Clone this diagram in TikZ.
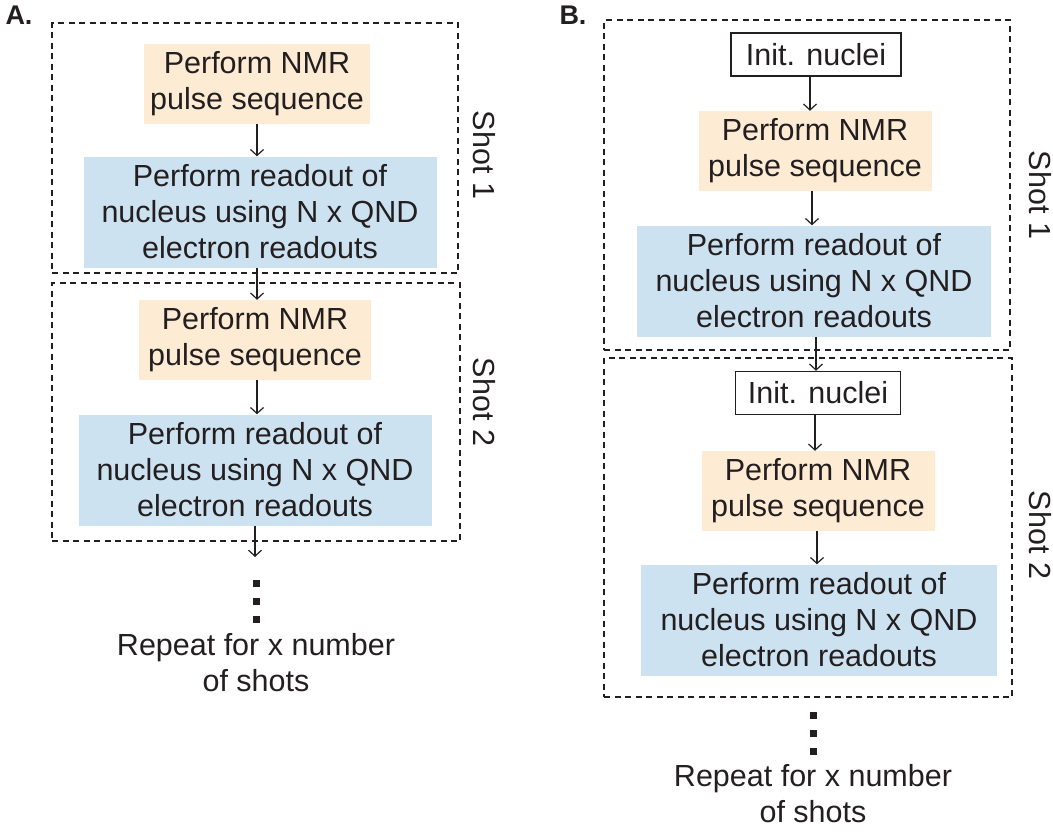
\documentclass[tikz,border=0pt]{standalone}
\usepackage{fontspec}
\setmainfont{Liberation Sans}
\usetikzlibrary{arrows.meta}
\definecolor{inkgray}{RGB}{35,31,32}
\definecolor{pulsefill}{RGB}{253,235,212}
\definecolor{readfill}{RGB}{205,226,240}
\tikzset{
  txt/.style={font=\fontsize{30.5}{36}\selectfont, text=inkgray, align=center, inner sep=0pt},
  pulsebox/.style={txt, fill=pulsefill, minimum width=#1, minimum height=80pt},
  readbox/.style={txt, fill=readfill, minimum width=#1, minimum height=111pt},
  initbox/.style={txt, draw=inkgray, line width=1.4pt, minimum width=#1, minimum height=43pt},
  shotframe/.style={draw=inkgray, line width=1.5pt, dash pattern=on 6pt off 4.5pt, inner sep=0pt},
  flow/.style={draw=inkgray, line width=1.2pt, -{Straight Barb[length=6pt,width=13pt,line width=1.2pt]}},
  dotsq/.style={fill=inkgray, minimum size=7pt, inner sep=0pt},
  shotlabel/.style={txt, rotate=-90},
  panellabel/.style={font=\bfseries\fontsize{27}{30}\selectfont, text=inkgray, inner sep=0pt}
}
\begin{document}
\begin{tikzpicture}[x=1pt, y=-1pt]
\useasboundingbox (0,0) rectangle (1053,831);

% ---------- Panel A ----------
\node[panellabel] (labA) at (19,15) {A.};
\node[shotframe, minimum width=406pt, minimum height=250pt] (fA1) at (255,148) {};
\node[shotframe, minimum width=408pt, minimum height=258pt] (fA2) at (256,412) {};
\node[shotlabel] (sA1) at (484,155) {Shot 1};
\node[shotlabel] (sA2) at (484,402) {Shot 2};

\node[pulsebox=226pt] (pA1) at (257,84) {Perform NMR\\pulse sequence};
\node[readbox=353pt] (rA1) at (260,212) {Perform readout of\\nucleus using N x QND\\electron readouts};
\node[pulsebox=232pt] (pA2) at (255,340) {Perform NMR\\pulse sequence};
\node[readbox=353pt] (rA2) at (255,470) {Perform readout of\\nucleus using N x QND\\electron readouts};
\coordinate (endA) at (255,557);

\draw[flow] (pA1.south -| 257,0) -- (rA1.north -| 257,0);
\draw[flow] (rA1.south -| 257,0) -- (pA2.north -| 257,0);
\draw[flow] (pA2.south -| 257,0) -- (rA2.north -| 257,0);
\draw[flow] (rA2.south -| 255,0) -- (endA);

\node[dotsq] (dA1) at (256,583) {};
\node[dotsq] (dA2) at (256,601) {};
\node[dotsq] (dA3) at (256,619) {};
\node[txt] (repA) at (256,663) {Repeat for x number\\of shots};

% ---------- Panel B ----------
\node[panellabel] (labB) at (573,15) {B.};
\node[shotframe, minimum width=406pt, minimum height=330pt] (fB1) at (807,185) {};
\node[shotframe, minimum width=408pt, minimum height=339pt] (fB2) at (808,527.5) {};
\node[shotlabel] (sB1) at (1040,195) {Shot 1};
\node[shotlabel] (sB2) at (1040,535) {Shot 2};

\node[initbox=170pt] (iB1) at (816,54.5) {Init. nuclei};
\node[pulsebox=233pt] (pB1) at (815,151) {Perform NMR\\pulse sequence};
\node[readbox=354pt] (rB1) at (814,281) {Perform readout of\\nucleus using N x QND\\electron readouts};
\node[initbox=165pt] (iB2) at (818,393) {Init. nuclei};
\node[pulsebox=233pt] (pB2) at (818,491) {Perform NMR\\pulse sequence};
\node[readbox=356pt] (rB2) at (819,620) {Perform readout of\\nucleus using N x QND\\electron readouts};

\draw[flow] (iB1.south -| 810,0) -- (pB1.north -| 810,0);
\draw[flow] (pB1.south -| 812,0) -- (rB1.north -| 812,0);
\draw[flow] (rB1.south -| 816,0) -- (iB2.north -| 816,0);
\draw[flow] (iB2.south -| 815,0) -- (pB2.north -| 815,0);
\draw[flow] (pB2.south -| 817,0) -- (rB2.north -| 817,0);

\node[dotsq] (dB1) at (813,715) {};
\node[dotsq] (dB2) at (813,733) {};
\node[dotsq] (dB3) at (813,751) {};
\node[txt] (repB) at (813,794) {Repeat for x number\\of shots};
\end{tikzpicture}
\end{document}
